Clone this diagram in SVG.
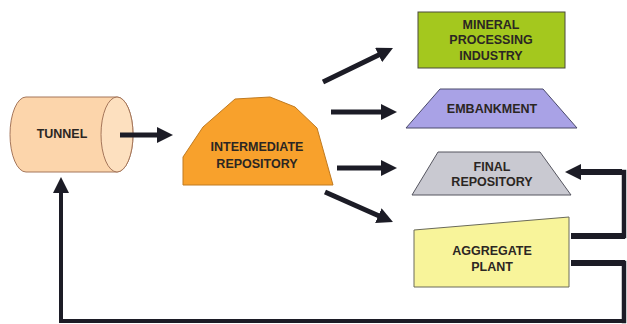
<svg xmlns="http://www.w3.org/2000/svg" width="627" height="324" viewBox="0 0 627 324">
<style>
text{font-family:"Liberation Sans",Arial,sans-serif;font-weight:bold;font-size:12.5px;fill:#2b2623;text-anchor:middle}
.ar{stroke:#1c1c26;stroke-width:5;fill:none}
.fb{stroke:#1c1c26;fill:none;stroke-linecap:square}
</style>
<defs>
<marker id="ah" markerUnits="userSpaceOnUse" markerWidth="16" markerHeight="16" refX="4" refY="8" orient="auto">
<path d="M0,0 L16,8 L0,16 z" fill="#1c1c26"/>
</marker>
</defs>
<rect width="627" height="324" fill="#ffffff"/>
<g id="tunnel">
<path d="M26,97 H117 A16,37.5 0 0 1 117,172 H26 A16,37.5 0 0 1 26,97 z" fill="#fcd5ab" stroke="#a5765a" stroke-width="1"/>
<ellipse cx="117" cy="134.5" rx="16" ry="37.5" fill="#fde0bf" stroke="#a5765a" stroke-width="1"/>
<text x="62" y="138">TUNNEL</text>
</g>
<g id="intermediate">
<polygon points="183,157 203,127 235,99 270,97 295,107 317,128 333,185 183,185" fill="#f8a12c" stroke="#c07a20" stroke-width="1"/>
<text x="257" y="151">INTERMEDIATE</text>
<text x="257" y="168">REPOSITORY</text>
</g>
<g id="mineral">
<rect x="418" y="12" width="147" height="56" fill="#a4c81e" stroke="#4a4a3a" stroke-width="1"/>
<text x="491" y="29">MINERAL</text>
<text x="491" y="44">PROCESSING</text>
<text x="491" y="60">INDUSTRY</text>
</g>
<g id="embankment">
<polygon points="440,89 543,89 577,128 406,128" fill="#a9a2e6" stroke="#4a4a6a" stroke-width="1"/>
<text x="492" y="113">EMBANKMENT</text>
</g>
<g id="final">
<polygon points="438,152 540,152 571,195 412,195" fill="#c9c9d1" stroke="#55555f" stroke-width="1"/>
<text x="492" y="171">FINAL</text>
<text x="492" y="186">REPOSITORY</text>
</g>
<g id="aggregate">
<polygon points="414,230 569,217 569,287 414,287" fill="#f8f49a" stroke="#6a6a5a" stroke-width="1"/>
<text x="492" y="255">AGGREGATE</text>
<text x="492" y="271">PLANT</text>
</g>
<g id="connectors">
<line class="ar" x1="120" y1="135" x2="161" y2="135" marker-end="url(#ah)"/>
<line class="ar" x1="323" y1="82" x2="382.2" y2="53.2" marker-end="url(#ah)"/>
<line class="ar" x1="331" y1="112" x2="385" y2="112" marker-end="url(#ah)"/>
<line class="ar" x1="337" y1="168" x2="385" y2="168" marker-end="url(#ah)"/>
<line class="ar" x1="325" y1="192" x2="382" y2="217.2" marker-end="url(#ah)"/>
<line class="fb" stroke-width="6" x1="574" y1="236" x2="622" y2="236"/>
<line class="fb" stroke-width="4.5" x1="624" y1="236" x2="624" y2="172"/>
<line class="fb" stroke-width="6" x1="622" y1="172" x2="577" y2="172" marker-end="url(#ah)" style="stroke-linecap:butt"/>
<line class="fb" stroke-width="6" x1="574" y1="263" x2="622" y2="263"/>
<line class="fb" stroke-width="4.5" x1="624" y1="263" x2="624" y2="321"/>
<line class="fb" stroke-width="4" x1="624" y1="321" x2="61" y2="321"/>
<line class="fb" stroke-width="4" x1="61" y1="321" x2="61" y2="189" marker-end="url(#ah)" style="stroke-linecap:butt"/>
</g>
</svg>
